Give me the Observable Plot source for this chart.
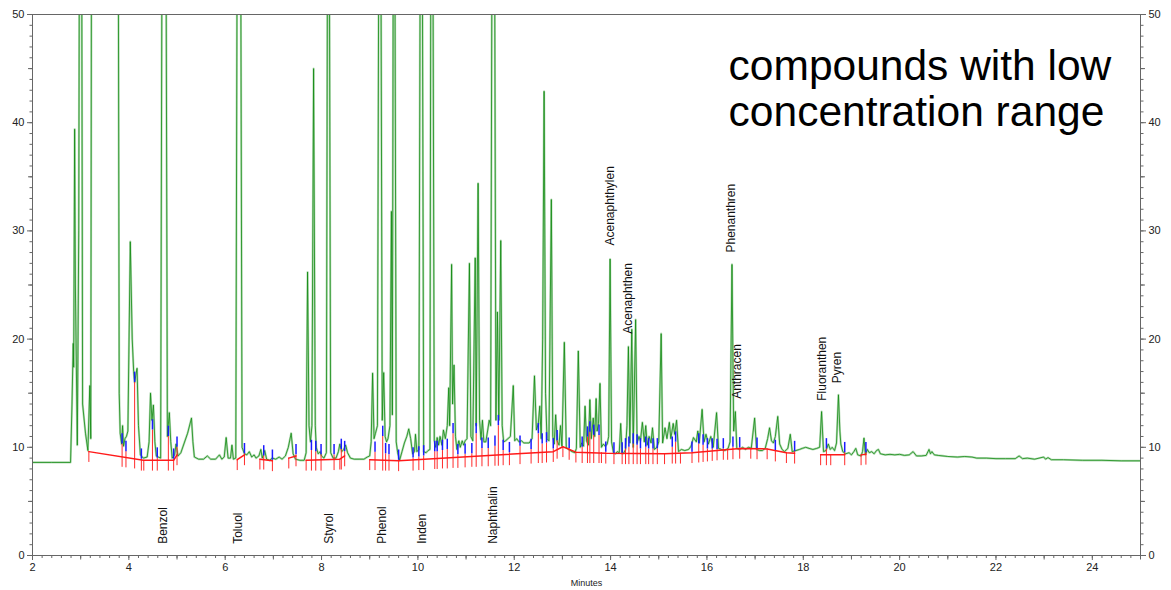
<!DOCTYPE html>
<html><head><meta charset="utf-8">
<script src="https://cdn.jsdelivr.net/npm/d3@7"></script>
<script src="https://cdn.jsdelivr.net/npm/@observablehq/plot@0.6"></script>
<style>body{margin:0;background:#fff;}</style>
</head><body><div id="chart"></div>
<script>
// chromatogram trace (minutes, signal)
const traceT = [2.0,2.4,2.79,2.82,2.845,2.855,2.875,2.89,2.93,2.96,2.975,3.02,3.04,3.10,3.15,3.19,3.21,3.225,3.78,3.80,3.82,3.85,3.87,3.89,3.92,3.95,3.98,4.03,4.07,4.10,4.12,4.17,4.20,4.24,4.30,4.38,4.42,4.45,4.48,4.51,4.54,4.57,4.61,4.66,4.69,4.77,4.80,4.84,4.87,4.90,4.95,4.98,5.02,5.08,5.15,5.22,5.30,5.33,5.36,5.45,5.55,5.63,5.70,5.80,5.88,5.93,5.98,6.02,6.06,6.11,6.14,6.17,6.22,6.25,6.32,6.35,6.40,6.45,6.50,6.55,6.60,6.64,6.70,6.74,6.77,6.82,6.86,6.92,6.98,7.05,7.12,7.18,7.25,7.31,7.37,7.41,7.46,7.55,7.64,7.68,7.71,7.74,7.77,7.80,7.835,7.87,7.89,7.93,7.97,8.00,8.05,8.10,8.125,8.16,8.19,8.24,8.30,8.35,8.38,8.42,8.46,8.50,8.54,8.60,8.68,8.78,8.88,8.95,9.00,9.03,9.06,9.09,9.12,9.16,9.19,9.23,9.26,9.29,9.32,9.35,9.38,9.42,9.45,9.47,9.49,9.52,9.55,9.58,9.62,9.67,9.72,9.77,9.81,9.85,9.89,9.93,9.95,9.98,10.02,10.05,10.09,10.12,10.17,10.21,10.25,10.27,10.31,10.34,10.37,10.40,10.43,10.46,10.50,10.53,10.57,10.61,10.64,10.66,10.70,10.72,10.75,10.78,10.81,10.85,10.88,10.92,10.95,10.98,11.02,11.07,11.10,11.14,11.19,11.21,11.25,11.28,11.31,11.34,11.37,11.41,11.45,11.48,11.51,11.54,11.59,11.62,11.65,11.68,11.72,11.75,11.78,11.82,11.87,11.92,11.98,12.01,12.05,12.10,12.15,12.20,12.26,12.31,12.37,12.42,12.46,12.50,12.53,12.56,12.59,12.62,12.65,12.68,12.72,12.77,12.80,12.83,12.86,12.89,12.93,12.96,12.99,13.04,13.08,13.13,13.20,13.26,13.29,13.33,13.37,13.40,13.44,13.47,13.50,13.54,13.57,13.60,13.64,13.67,13.70,13.72,13.75,13.78,13.81,13.85,13.89,13.93,13.96,13.99,14.02,14.06,14.10,14.14,14.18,14.21,14.24,14.28,14.31,14.34,14.37,14.40,14.44,14.47,14.52,14.55,14.59,14.62,14.66,14.70,14.73,14.76,14.80,14.84,14.87,14.91,14.96,15.00,15.05,15.08,15.13,15.17,15.22,15.25,15.30,15.33,15.37,15.41,15.47,15.54,15.62,15.67,15.72,15.78,15.81,15.84,15.90,15.94,15.98,16.03,16.08,16.13,16.20,16.24,16.30,16.37,16.44,16.48,16.52,16.555,16.59,16.62,16.68,16.74,16.80,16.86,16.92,16.99,17.03,17.09,17.15,17.21,17.26,17.30,17.34,17.38,17.42,17.47,17.51,17.56,17.61,17.68,17.73,17.77,17.85,17.92,17.98,18.05,18.12,18.20,18.28,18.34,18.38,18.42,18.47,18.52,18.56,18.60,18.65,18.69,18.73,18.76,18.78,18.82,18.88,18.95,19.00,19.05,19.09,19.13,19.20,19.23,19.26,19.29,19.33,19.37,19.42,19.47,19.52,19.56,19.60,19.70,19.80,19.90,20.00,20.10,20.20,20.28,20.35,20.45,20.55,20.61,20.64,20.67,20.72,20.80,20.90,21.00,21.20,21.35,21.50,21.60,21.80,22.00,22.20,22.40,22.48,22.55,22.65,22.80,22.99,23.03,23.08,23.15,23.40,23.80,24.20,24.60,25.00];
const traceV = [8.6,8.6,8.6,14,19.6,17.4,39.4,25,10.2,30,60,60,14,11.3,9.7,15.7,10.8,60,60,15,11.3,10.3,12.0,10.1,10.8,11,11.5,29.0,20,17.0,16.0,17.3,12,9.3,9.0,9.1,10.5,15.0,12.5,13.9,10.5,9.2,9.1,9.0,60,60,11,13.2,10.5,9.0,9.3,10.3,9.2,9.5,10.4,11.3,12.7,10.5,9.1,8.9,8.9,9.2,8.9,8.9,9.3,8.9,9.1,10.9,9.0,9.0,10.2,8.9,9.0,60,60,10,9.4,9.3,9.6,9.1,9.3,9.0,9.2,9.8,9.0,9.7,8.9,8.8,9.0,8.9,9.1,8.9,9.2,10.0,11.3,9.4,8.9,8.8,8.8,9.5,26.2,12,10.5,12,45.0,12,10.0,9.4,9.6,9.2,9.0,9.5,60,60,9.5,9.0,9.0,9.6,10.3,9.6,9.8,10.2,9.5,9.0,8.9,8.9,8.9,9.1,9.2,10.5,16.85,10.8,11.3,12,60,60,12.5,16.9,11.0,10.5,10.8,12,31.8,13,60,60,10.5,9.5,8.8,9.6,10.4,11.0,11.7,10.8,9.4,9.6,11.2,9.6,9.8,60,60,9.6,9.5,9.7,9.8,60,60,10.6,10.0,10.9,10.2,11.0,10.2,11.6,10.8,12.0,15.5,12,26.9,14,17.6,11,9.8,10.6,10.0,10.6,10.2,10.6,10.8,27.0,11,10.6,27.5,12.0,34.4,12.5,10.7,12.5,10.5,10.5,11.6,12.5,12,60,60,12.5,22.5,12.5,29.1,12,10.5,10.6,10.8,11.0,15.7,10.6,10.8,10.5,10.6,10.4,10.4,10.4,10.8,16.6,11.6,12.2,13.8,10.8,20,42.9,15,10.8,10.6,32.9,11,10.3,13.0,10.6,10.2,12.0,10.1,19.7,10.0,9.8,9.6,9.5,9.9,18.9,10.0,10.4,10.1,13.8,10.6,10.2,14.4,10.8,12.7,11.0,14.5,11.5,12.2,15.9,10.0,10.3,10.1,10.3,11,27.4,10.5,9.5,9.4,9.6,9.5,12.2,9.4,9.5,9.8,12,19.3,10.4,20.9,10.0,21.8,10.4,11.0,10.6,12.3,10.5,12.0,10.2,11.0,10.4,11.8,9.8,10.0,10.5,20.5,10.4,11.8,10.8,12.3,10.8,12.2,11.2,12.5,9.6,9.8,9.7,9.8,10.1,10.9,10.5,11.5,10.4,13.5,10.5,11.2,10.3,11.0,10.0,13.2,9.9,9.8,9.7,9.9,10.5,26.9,11.5,13.3,9.9,9.8,10.0,9.8,10.0,9.9,12.7,9.8,9.7,9.7,9.9,10.8,11.8,10.6,10.4,11.0,12.85,10.3,9.8,9.6,9.9,11.2,9.6,9.7,9.8,9.9,10.0,9.9,9.8,9.9,10.0,13.3,9.6,9.7,10.3,9.8,10.0,9.7,10.4,14.85,11.5,10.3,9.6,9.4,9.5,9.3,9.6,9.9,9.3,9.2,9.6,10.85,9.3,9.8,9.5,9.6,9.4,9.7,9.8,9.4,9.3,9.35,9.3,9.35,9.25,9.3,9.6,9.2,9.2,9.25,9.8,9.4,9.6,9.3,9.25,9.2,9.15,9.1,9.15,9.1,9.0,9.0,8.95,8.95,8.95,9.2,8.95,9.0,8.9,9.1,8.9,9.05,8.85,8.85,8.8,8.8,8.75,8.75];

// integration baseline segments
const baseSeg = [1,1,1,1, 2,2, 3,3, 4,4, 5,5,5, 6,6,6,6,6,6,6,6,6,6,6,6, 7,7, 8,8];
const baseT = [3.17,4.30,4.93,5.00, 6.25,6.40, 6.72,6.98, 7.32,7.47, 7.68,8.38,8.48, 9.00,9.60,12.81,13.01,13.28,13.90,15.12,15.69,16.68,17.25,17.65,17.82, 18.36,18.86, 19.20,19.30];
const baseV = [9.6,8.8,8.8,9.3, 8.85,9.3, 8.9,8.75, 9.0,9.2, 8.8,8.9,9.2, 8.85,8.75,9.6,10.05,9.55,9.45,9.4,9.5,9.9,9.85,9.5,9.45, 9.3,9.3, 9.3,9.35];

// peak start/end markers: time, baseline level, trace level
const markT = [3.17,3.86,3.94,4.12,4.26,4.31,4.49,4.59,4.82,4.93,5.00,6.25,6.40,6.72,6.80,6.98,7.32,7.47,7.68,7.79,7.88,7.99,8.26,8.38,8.41,8.48,9.00,9.11,9.27,9.33,9.40,9.60,9.90,10.02,10.12,10.35,10.40,10.51,10.61,10.73,10.83,10.98,11.12,11.21,11.33,11.46,11.60,11.67,11.77,11.90,12.12,12.35,12.50,12.58,12.67,12.81,12.89,13.01,13.14,13.28,13.41,13.52,13.57,13.65,13.76,13.81,13.90,14.07,14.24,14.31,14.38,14.47,14.55,14.62,14.73,14.79,14.88,14.97,15.12,15.28,15.35,15.45,15.69,15.83,15.92,16.01,16.11,16.21,16.34,16.43,16.54,16.68,16.91,17.04,17.25,17.42,17.65,17.82,18.36,18.48,18.57,18.86,19.20,19.30];
const markBase = [9.6,9.15,9.1,9.0,8.8,8.8,8.8,8.8,8.8,8.8,9.3,8.85,9.3,8.9,8.9,8.75,9.0,9.2,8.8,8.8,8.8,8.8,8.85,8.9,8.9,9.2,8.85,8.85,8.8,8.8,8.8,8.75,8.8,8.85,8.85,8.95,8.95,9.0,9.0,9.05,9.05,9.1,9.15,9.15,9.2,9.2,9.25,9.25,9.3,9.3,9.4,9.45,9.5,9.5,9.55,9.6,9.9,10.05,9.8,9.55,9.5,9.5,9.5,9.5,9.5,9.5,9.45,9.4,9.4,9.4,9.4,9.4,9.4,9.4,9.4,9.4,9.4,9.4,9.4,9.45,9.45,9.45,9.5,9.55,9.6,9.65,9.7,9.75,9.8,9.8,9.85,9.9,9.9,9.85,9.85,9.65,9.5,9.45,9.3,9.3,9.3,9.3,9.3,9.35];
const markTop = [9.6,10.3,9.6,16.0,8.9,8.8,11.6,9.0,11.0,8.9,10.0,8.85,9.4,8.9,9.2,8.8,9.0,9.3,8.8,9.7,9.6,9.3,9.3,8.9,9.8,9.6,8.85,9.55,11.0,9.4,9.3,8.8,9.0,9.1,9.2,9.6,9.6,9.7,9.8,11.25,9.3,9.35,9.4,11.25,9.9,9.9,10.1,12.0,9.7,9.5,10.1,9.8,11.25,10.3,10.4,9.85,10.6,10.05,9.9,9.55,10.0,10.94,11.4,11.1,11.1,9.5,9.55,9.46,9.46,9.85,10.0,10.3,10.2,9.85,10.0,9.85,9.85,9.85,9.4,10.0,10.47,9.45,9.55,10.3,10.2,9.85,9.85,9.8,9.85,9.8,10.0,9.95,9.9,9.9,9.85,9.7,9.5,9.6,9.3,9.85,9.3,9.5,9.3,9.5];

// compound labels
const labelNames = ["Benzol","Toluol","Styrol","Phenol","Inden","Naphthalin","Acenaphthylen","Acenaphthen","Phenanthren","Anthracen","Fluoranthen","Pyren"];
const labelT = [4.72,6.27,8.15,9.25,10.08,11.57,13.99,14.36,16.51,16.63,18.40,18.71];
const labelV = [1.08,1.08,1.08,1.08,1.08,1.08,28.65,20.49,28.0,14.48,14.3,15.93];

const xTicks = [2,4,6,8,10,12,14,16,18,20,22,24];
const yTicks = [0,10,20,30,40,50];
const noteText = "compounds with low\nconcentration range";
const noteT = 16.45, noteV = 39.74;

const trace = traceT.map((t, i) => ({t, v: traceV[i]}));
const baseline = baseT.map((t, i) => ({t, v: baseV[i], seg: baseSeg[i]}));
const markers = markT.map((t, i) => ({t, base: markBase[i], top: markTop[i]}));
const labels = labelNames.map((name, i) => ({name, t: labelT[i], v: labelV[i]}));

const xMinor = d3.range(0, 116).map(i => 2 + i * 0.2);
const xMid = d3.range(3, 26, 2);
const yMinor = d3.range(0, 51);
const yMid = d3.range(5, 50, 10);

const axisCommon = {label: null, stroke: "#666", fill: "#222", fontSize: 11};

const chart = Plot.plot({
  width: 1171, height: 590,
  marginLeft: 32, marginRight: 31, marginTop: 14, marginBottom: 35,
  style: {fontFamily: "'Liberation Sans', Arial, sans-serif", background: "white"},
  x: {domain: [2, 25], axis: null},
  y: {domain: [0, 50], axis: null},
  marks: [
    Plot.line(trace, {x: "t", y: "v", stroke: "#b8dcb8", strokeWidth: 2.2, clip: true}),
    Plot.line(trace, {x: "t", y: "v", stroke: "#128a12", strokeWidth: 0.8, clip: true}),
    Plot.ruleX(markers, {x: "t", y1: d => d.base - 1.0, y2: "top", stroke: "#ff2a2a", strokeWidth: 1}),
    Plot.line(baseline, {x: "t", y: "v", z: "seg", stroke: "#ff1a1a", strokeWidth: 1.5}),
    Plot.ruleX(markers.filter(d => d.top > d.base), {x: "t", y1: "top", y2: d => d.top + 0.95, stroke: "#1a1aff", strokeWidth: 1.5}),
    Plot.text(labels, {x: "t", y: "v", text: "name", rotate: -90, textAnchor: "start", lineAnchor: "middle", fontSize: 12, fill: "#111"}),
    Plot.text([noteText], {x: () => noteT, y: () => noteV, text: d => d, textAnchor: "start", lineAnchor: "bottom", lineHeight: 1.08, fontSize: 42.5, fill: "#000"}),
    Plot.axisX(xMinor, {...axisCommon, tickSize: 3, text: null}),
    Plot.axisX(xMid, {...axisCommon, tickSize: 4.5, text: null}),
    Plot.axisX(xTicks, {...axisCommon, tickSize: 5, tickPadding: 3}),
    Plot.axisY(yMinor, {...axisCommon, anchor: "left", tickSize: 2.5, text: null}),
    Plot.axisY(yMid, {...axisCommon, anchor: "left", tickSize: 4, text: null}),
    Plot.axisY(yTicks, {...axisCommon, anchor: "left", tickSize: 5, tickPadding: 3}),
    Plot.axisY(yMinor, {...axisCommon, anchor: "right", tickSize: 2.5, text: null}),
    Plot.axisY(yMid, {...axisCommon, anchor: "right", tickSize: 4, text: null}),
    Plot.axisY(yTicks, {...axisCommon, anchor: "right", tickSize: 5, tickPadding: 3}),
    Plot.frame({stroke: "#666"}),
    Plot.text(["Minutes"], {frameAnchor: "bottom", dy: 30, lineAnchor: "bottom", fontSize: 9, fill: "#222"})
  ]
});
document.getElementById("chart").appendChild(chart);
</script>
</body></html>
